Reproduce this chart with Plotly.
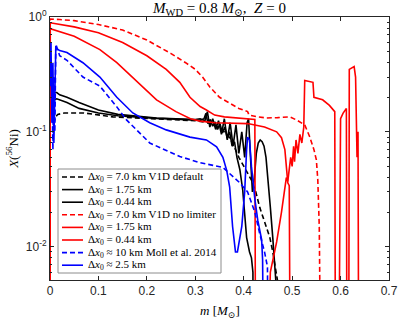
import plotly.graph_objects as go

# ---------------- data ----------------
OFF = 1e-4  # value below the visible range (curve leaves the plot)

bd_m = [0.006, 0.009, 0.012, 0.016, 0.03, 0.07, 0.13, 0.2, 0.25, 0.3, 0.33, 0.355, 0.37, 0.38,
        0.39, 0.4, 0.408, 0.416, 0.425, 0.433, 0.44, 0.447, 0.454, 0.46, 0.464, 0.47, 0.475]
bd_x = [0.1, 0.125, 0.135, 0.142, 0.146, 0.146, 0.135, 0.13, 0.128, 0.125, 0.12, 0.105, 0.09, 0.075,
        0.06, 0.05, 0.043, 0.038, 0.03, 0.022, 0.018, 0.015, 0.012, 0.009, 0.007, 0.005, OFF]

b1_m = [0, 0.008, 0.014, 0.02, 0.035, 0.06, 0.1, 0.14, 0.17, 0.22, 0.26, 0.3, 0.31, 0.318, 0.322,
        0.326, 0.331, 0.336, 0.341, 0.346, 0.351, 0.356, 0.361, 0.366, 0.371, 0.376, 0.381, 0.386,
        0.392, 0.398, 0.406, 0.412, 0.416, 0.419, 0.421]
b1_x = [0.19, 0.19, 0.194, 0.19, 0.18, 0.16, 0.146, 0.138, 0.135, 0.131, 0.129, 0.127, 0.126, 0.13,
        0.145, 0.118, 0.128, 0.112, 0.122, 0.105, 0.118, 0.098, 0.11, 0.088, 0.1, 0.075, 0.082, 0.06,
        0.047, 0.031, 0.012, 0.009, 0.008, 0.006, OFF]

b2_m = [0, 0.008, 0.014, 0.02, 0.035, 0.06, 0.1, 0.14, 0.17, 0.22, 0.26, 0.3, 0.31, 0.32, 0.325,
        0.33, 0.336, 0.342, 0.348, 0.354, 0.36, 0.366, 0.372, 0.378, 0.384, 0.39, 0.396, 0.402,
        0.407, 0.41, 0.414, 0.418, 0.422, 0.426, 0.43, 0.434, 0.438, 0.442, 0.446, 0.45, 0.455,
        0.46, 0.464, 0.468, 0.471]
b2_x = [0.22, 0.22, 0.22, 0.21, 0.2, 0.18, 0.155, 0.142, 0.138, 0.132, 0.13, 0.128, 0.13, 0.125, 0.15,
        0.11, 0.13, 0.105, 0.125, 0.095, 0.13, 0.085, 0.12, 0.075, 0.115, 0.065, 0.1, 0.06,
        0.12, 0.13, 0.06, 0.03, 0.04, 0.065, 0.08, 0.085, 0.082, 0.075, 0.06, 0.04, 0.022,
        0.012, 0.007, 0.004, OFF]

rd_m = [0, 0.0005, 0.02, 0.05, 0.1, 0.15, 0.2, 0.25, 0.28, 0.3, 0.315, 0.33, 0.35, 0.37, 0.39,
        0.408, 0.411, 0.43, 0.447, 0.47, 0.495, 0.509, 0.52, 0.526, 0.536, 0.545, 0.55, 0.553,
        0.556, 0.559, 0.561]
rd_x = [OFF, 0.96, 0.95, 0.93, 0.86, 0.77, 0.63, 0.48, 0.40, 0.35, 0.3, 0.246, 0.2, 0.18, 0.16,
        0.15, 0.14, 0.135, 0.132, 0.133, 0.135, 0.127, 0.12, 0.115, 0.091, 0.07, 0.057, 0.038,
        0.015, 0.0055, OFF]

r1_m = [0, 0.0005, 0.05, 0.103, 0.138, 0.17, 0.2, 0.22, 0.26, 0.29, 0.31, 0.34, 0.408, 0.443,
        0.468, 0.478, 0.485, 0.488, 0.491, 0.494, 0.497]
r1_x = [OFF, 0.79, 0.68, 0.52, 0.4, 0.3, 0.23, 0.19, 0.15, 0.13, 0.124, 0.12, 0.118, 0.11,
        0.1, 0.089, 0.07, 0.05, 0.036, 0.034, OFF]

r2_m = [0, 0.0005, 0.05, 0.1, 0.15, 0.2, 0.24, 0.268, 0.289, 0.31, 0.323, 0.34, 0.36, 0.39, 0.42,
        0.423, 0.425, 0.443, 0.455, 0.468, 0.478, 0.488, 0.491, 0.494, 0.497, 0.5, 0.503, 0.505,
        0.508, 0.512, 0.516, 0.52, 0.524, 0.526, 0.543, 0.545, 0.563, 0.577, 0.588, 0.59, 0.595,
        0.6, 0.605, 0.612, 0.6135, 0.6165, 0.618, 0.628, 0.631, 0.634, 0.636, 0.638]
r2_x = [OFF, 0.89, 0.82, 0.73, 0.6, 0.46, 0.35, 0.27, 0.2, 0.166, 0.155, 0.14, 0.135, 0.132, 0.13,
        0.128, OFF, OFF, 0.006, 0.011, 0.02, 0.04, 0.037, 0.045, 0.06, 0.05, 0.075, 0.055,
        0.085, 0.065, 0.095, 0.08, 0.11, 0.28, 0.27, 0.2, 0.19, 0.17, 0.15, OFF, OFF,
        0.13, 0.145, 0.16, OFF, OFF, 0.35, 0.37, 0.3, 0.06, 0.1, OFF]

bld_m = [0.004, 0.006, 0.008, 0.01, 0.012, 0.014, 0.02, 0.035, 0.068, 0.103, 0.138, 0.158, 0.206,
         0.268, 0.309, 0.357, 0.377, 0.392, 0.408, 0.416, 0.423, 0.433, 0.443, 0.449, 0.452]
bld_x = [0.25, 0.07, 0.3, 0.1, 0.58, 0.55, 0.46, 0.42, 0.3, 0.25, 0.165, 0.127, 0.08,
         0.061, 0.054, 0.049, 0.041, 0.036, 0.03, 0.024, 0.02, 0.013, 0.009, 0.0067, OFF]

bl_m = [0, 0.002, 0.004, 0.006, 0.008, 0.01, 0.012, 0.014, 0.02, 0.035, 0.068, 0.103, 0.138, 0.171,
        0.206, 0.24, 0.289, 0.323, 0.344, 0.357, 0.365, 0.371, 0.377, 0.383, 0.387, 0.396, 0.402,
        0.406, 0.408, 0.412, 0.416, 0.423, 0.429, 0.437, 0.439, 0.443]
bl_x = [0.25, 0.6, 0.12, 0.4, 0.08, 0.3, 0.55, 0.53, 0.51, 0.49, 0.4, 0.3, 0.2, 0.146,
        0.12, 0.104, 0.09, 0.085, 0.074, 0.06, 0.046, 0.033, 0.015, 0.009, 0.009, 0.015, 0.03,
        0.07, 0.09, 0.085, 0.05, 0.026, 0.017, 0.0115, 0.0077, OFF]

labels = [
    "Δ<i>x</i><sub>0</sub> = 7.0 km V1D default",
    "Δ<i>x</i><sub>0</sub> = 1.75 km",
    "Δ<i>x</i><sub>0</sub> = 0.44 km",
    "Δ<i>x</i><sub>0</sub> = 7.0 km V1D no limiter",
    "Δ<i>x</i><sub>0</sub> = 1.75 km",
    "Δ<i>x</i><sub>0</sub> = 0.44 km",
    "Δ<i>x</i><sub>0</sub> ≈ 10 km Moll et al. 2014",
    "Δ<i>x</i><sub>0</sub> ≈ 2.5 km",
]

x_ticks = [0, 0.1, 0.2, 0.3, 0.4, 0.5, 0.6, 0.7]
y_ticks = [0.01, 0.1, 1]
y_ticktext = ["10<sup>-2</sup>", "10<sup>-1</sup>", "10<sup>0</sup>"]

# ---------------- figure ----------------
BLACK, RED, BLUE = "#000000", "#ff0000", "#0000ff"
DASH = "5px,3px"
SERIF = "Liberation Serif, DejaVu Serif, serif"
series = [
    (bd_m, bd_x, BLACK, DASH),
    (b1_m, b1_x, BLACK, "solid"),
    (b2_m, b2_x, BLACK, "solid"),
    (rd_m, rd_x, RED, DASH),
    (r1_m, r1_x, RED, "solid"),
    (r2_m, r2_x, RED, "solid"),
    (bld_m, bld_x, BLUE, DASH),
    (bl_m, bl_x, BLUE, "solid"),
]

fig = go.Figure()
for (mm, xx, col, dash), name in zip(series, labels):
    fig.add_trace(go.Scatter(x=mm, y=xx, mode="lines", name=name, showlegend=False,
                             line=dict(color=col, width=1.6, dash=dash)))

AX = "rgb(38,38,38)"
L, R, T, B = 50, 10, 17, 39
W, H = 399, 319
pw, ph = W - L - R, H - T - B


def px_x(p):
    return (p - L) / pw


def px_y(p):
    return (H - B - p) / ph


minor_vals = [k * 10 ** e for e in (-3, -2, -1) for k in range(2, 10)]

fig.update_layout(
    width=W, height=H,
    margin=dict(l=L, r=R, t=T, b=B, autoexpand=False),
    paper_bgcolor="white", plot_bgcolor="white",
    font=dict(family="Liberation Sans, Arial, sans-serif", size=12, color=AX),
    title=dict(text="<i>M</i><sub>WD</sub> = 0.8 <i>M</i><sub>⊙</sub>,  <i>Z</i> = 0",
               x=0.5, xref="paper", xanchor="center", y=1 - 8 / H, yref="container",
               yanchor="middle",
               font=dict(family=SERIF, size=15, color="black")),
    xaxis=dict(range=[0, 0.7], tickvals=x_ticks, ticks="inside", ticklen=4, tickcolor=AX,
               showline=True, linecolor=AX, linewidth=1, mirror="ticks", showgrid=False,
               zeroline=False, tickfont=dict(size=12), automargin=False),
    yaxis=dict(type="log", range=[-2.29, 0], tickvals=y_ticks, ticktext=y_ticktext,
               ticks="inside", ticklen=4, tickcolor=AX, showline=True, linecolor=AX, linewidth=1,
               mirror="ticks", showgrid=False, zeroline=False, tickfont=dict(size=12),
               automargin=False,
               minor=dict(tickvals=minor_vals, ticks="inside", ticklen=2, tickcolor=AX,
                          showgrid=False),
               title=dict(text="<i>X</i>(<sup>56</sup>Ni)", standoff=4,
                          font=dict(family=SERIF, size=13, color="black"))),
)

# x-axis title
fig.add_annotation(xref="paper", yref="paper", x=0.5, y=px_y(311),
                   xanchor="center", yanchor="middle", showarrow=False,
                   text="<i>m</i> [<i>M</i><sub>⊙</sub>]",
                   font=dict(family=SERIF, size=13, color="black"))

# ---------------- legend (drawn manually to match compact MATLAB legend) ----------------
fig.add_shape(type="rect", xref="paper", yref="paper",
              x0=px_x(58), x1=px_x(221), y0=px_y(273), y1=px_y(169),
              line=dict(color="#8c8c8c", width=1), fillcolor="white", layer="above")
for i, ((mm, xx, col, dash), name) in enumerate(zip(series, labels)):
    yc = 177 + i * 12.6
    fig.add_shape(type="line", xref="paper", yref="paper",
                  x0=px_x(62), x1=px_x(83), y0=px_y(yc), y1=px_y(yc),
                  line=dict(color=col, width=1.6, dash=dash), layer="above")
    fig.add_annotation(xref="paper", yref="paper", x=px_x(86), y=px_y(yc),
                       xanchor="left", yanchor="middle", showarrow=False, text=name,
                       font=dict(family=SERIF, size=11, color="black"))

fig.write_html("out.html", config={"displayModeBar": False},
               post_script="document.body.style.margin='0px';")
